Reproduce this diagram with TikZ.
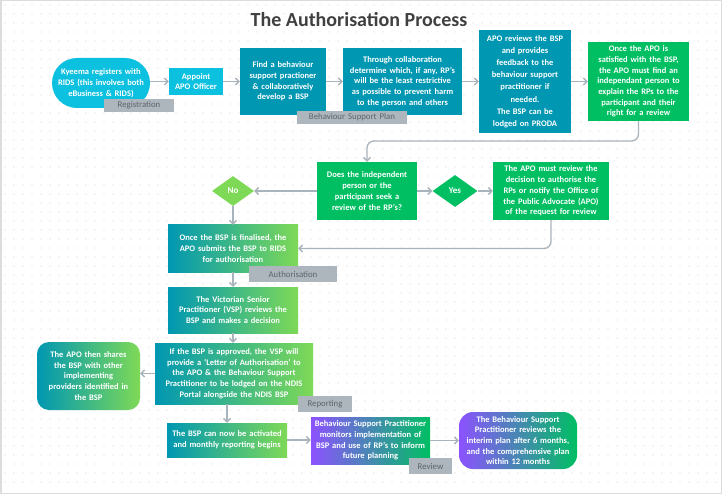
\documentclass[tikz,border=0pt]{standalone}
\usepackage{fontspec}
\setmainfont{Carlito}
\usetikzlibrary{arrows.meta,shapes.geometric}
\definecolor{cyanb}{HTML}{0CC0DF}
\definecolor{tealb}{HTML}{0097B2}
\definecolor{greenb}{HTML}{00BF63}
\definecolor{lgreen}{HTML}{7ED957}
\definecolor{purp}{HTML}{8C52FF}
\definecolor{tagg}{HTML}{ADB5BD}
\definecolor{tagt}{HTML}{5E646A}
\definecolor{linec}{HTML}{A9B3BC}
\definecolor{dotc}{HTML}{D6D6D6}
\definecolor{framec}{HTML}{DCDCDC}
\definecolor{titlec}{HTML}{404040}
\newcommand\mkbox[7]{%
  \pgfmathsetmacro\mkw{#4-#2}\pgfmathsetmacro\mkh{#5-#3}\pgfmathsetmacro\mkt{#4-#2-4}%
  \node[#6,minimum width=\mkw pt,minimum height=\mkh pt,text width=\mkt pt] (#1) at ({(#2+#4)/2},{(#3+#5)/2}) {#7};}
\tikzset{
  base/.style={inner sep=0pt, text=white, align=center, font=\fontsize{8.5}{10.7}\selectfont\bfseries},
  cyanbox/.style={base, fill=cyanb},
  tealbox/.style={base, fill=tealb},
  greenbox/.style={base, fill=greenb},
  tgbox/.style={base, left color=tealb, right color=lgreen},
  pgbox/.style={base, left color=purp, right color=greenb},
  tagbox/.style={inner sep=0pt, align=center, fill=tagg, text=tagt, font=\fontsize{8.8}{10}\selectfont},
  dia/.style={shape=diamond, inner sep=0pt, text=white, font=\fontsize{9}{10}\selectfont\bfseries, minimum width=42pt, minimum height=30pt},
  arr/.style={draw=linec, line width=1.3pt, -{Straight Barb[length=3.5pt,width=7pt]}},
}
\begin{document}
\begin{tikzpicture}[x=1pt,y=-1pt]
\useasboundingbox (0,0) rectangle (722,494);
\fill[white] (0,0) rectangle (722,494);
\foreach \i in {0,...,79} {\foreach \j in {0,...,53} {\fill[dotc] ({5+9*\i},{5+9*\j}) circle (0.55pt);}}
\draw[framec, line width=1.5pt] (0.75,0.75) rectangle (721.25,493.25);
\node[font=\fontsize{20}{22}\selectfont\bfseries, text=titlec] (title) at (359,20) {The Authorisation Process};

\mkbox{k}{52}{58}{150}{108}{cyanbox, rounded corners=25pt}{Kyeema registers with\\RIDS (this involves both\\eBusiness \& RIDS)}
\mkbox{a}{169}{68}{223}{95}{cyanbox}{Appoint\\APO Officer}
\mkbox{f}{240}{48}{326}{115}{tealbox}{Find a behaviour\\support practioner\\\& collaboratively\\develop a BSP}
\mkbox{t}{343}{48}{462}{115}{tealbox}{Through collaboration\\determine which, if any, RP’s\\will be the least restrictive\\as possible to prevent harm\\to the person and others}
\mkbox{r}{479}{30}{571}{133}{tealbox, font=\fontsize{8.5}{12.2}\selectfont\bfseries}{APO reviews the BSP\\and provides\\feedback to the\\behaviour support\\practitioner if\\needed.\\The BSP can be\\lodged on PRODA}
\mkbox{o}{588}{42}{689}{121}{greenbox}{Once the APO is\\satisfied with the BSP,\\the APO must find an\\independant person to\\explain the RPs to the\\participant and their\\right for a review}
\mkbox{d}{317}{162}{417}{220}{greenbox}{Does the independent\\person or the\\participant seek a\\review of the RP’s?}
\node[dia, fill=lgreen] (no) at (233,191) {No};
\node[dia, fill=greenb, minimum width=45pt, minimum height=32pt] (yes) at (455,191) {Yes};
\mkbox{m}{493}{162}{609}{220}{greenbox}{The APO must review the\\decision to authorise the\\RPs or notify the Office of\\the Public Advocate (APO)\\of the request for review}
\mkbox{s}{168}{225}{298}{272}{tgbox}{Once the BSP is finalised, the\\APO submits the BSP to RIDS\\for authorisation}
\mkbox{v}{168}{287}{298}{333}{tgbox}{The Victorian Senior\\Practitioner (VSP) reviews the\\BSP and makes a decision}
\mkbox{p}{155}{343}{313}{404}{tgbox}{If the BSP is approved, the VSP will\\provide a ‘Letter of Authorisation’ to\\the APO \& the Behaviour Support\\Practitioner to be lodged on the NDIS\\Portal alongside the NDIS BSP}
\mkbox{sh}{37}{342}{140}{410}{tgbox, rounded corners=12pt}{The APO then shares\\the BSP with other\\implementing\\providers identified in\\the BSP}
\mkbox{ac}{167}{423}{287}{457}{tgbox}{The BSP can now be activated\\and monthly reporting begins}
\mkbox{mo}{311}{417}{430}{464}{pgbox}{Behaviour Support Practitioner\\monitors implementation of\\BSP and use of RP’s to inform\\future planning}
\mkbox{rv}{459}{412}{577}{469}{pgbox, rounded corners=14pt}{The Behaviour Support\\Practitioner reviews the\\interim plan after 6 months,\\and the comprehensive plan\\within 12 months}

\mkbox{tgreg}{104}{99}{174}{112}{tagbox}{Registration}
\mkbox{tgbsp}{297}{111}{407}{124}{tagbox}{Behaviour Support Plan}
\mkbox{tgauth}{249}{266}{337}{282}{tagbox}{Authorisation}
\mkbox{tgrep}{298}{396}{352}{412}{tagbox}{Reporting}
\mkbox{tgrev}{409}{458}{452}{474}{tagbox}{Review}

\draw[arr] (k.east |- a.west) -- (a.west);
\draw[arr] (a.east) -- (a.east -| f.west);
\draw[arr] (f.east) -- (f.east -| t.west);
\draw[arr] (t.east) -- (t.east -| r.west);
\draw[arr] (r.east) -- (r.east -| o.west);
\coordinate (loop) at (0,141);
\draw[arr, rounded corners=7pt] (o.south) -- (o.south |- loop) -- (loop -| d.north) -- (d.north);
\draw[arr] (d.west) -- (no.east);
\draw[arr] (d.east) -- (yes.west);
\draw[arr] (yes.east) -- (m.west);
\draw[arr] (no.south) -- (no.south |- s.north);
\draw[arr, rounded corners=7pt] (m.south) -- (m.south |- s.east) -- (s.east);
\draw[arr] (s.south) -- (v.north);
\draw[arr] (v.south) -- (v.south |- p.north);
\draw[arr] (p.west) -- (p.west -| sh.east);
\draw[arr] (ac.north |- p.south) -- (ac.north);
\draw[arr] (ac.east) -- (ac.east -| mo.west);
\draw[arr] (mo.east) -- (mo.east -| rv.west);
\end{tikzpicture}
\end{document}
